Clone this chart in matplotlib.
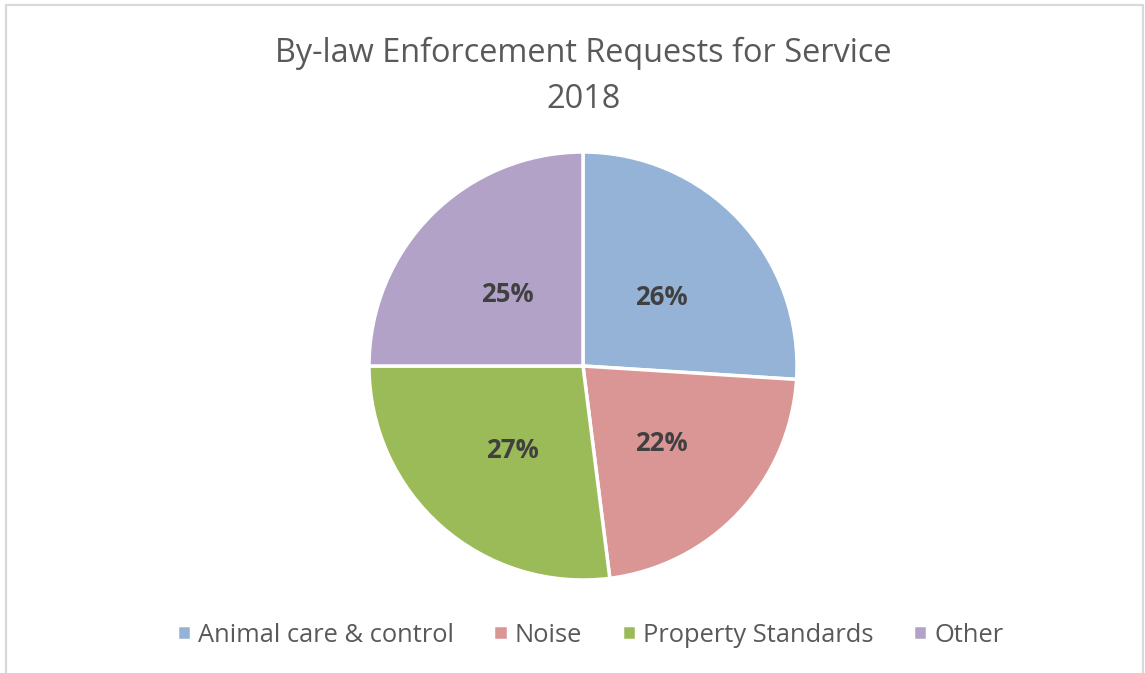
import matplotlib

matplotlib.use('agg')

import matplotlib.pyplot as plt
from matplotlib.patches import Rectangle

categories = ['Animal care & control', 'Noise', 'Property Standards', 'Other']
shares = [26, 22, 27, 25]
colors = ['#95B3D7', '#D99694', '#9BBB59', '#B3A2C7']

plt.rcParams['font.family'] = ['Open Sans', 'DejaVu Sans']

W, H = 1145, 673
fig = plt.figure(figsize=(W / 100, H / 100), dpi=100)

# light grey chart frame
fig.patches.append(Rectangle((6 / W, -0.02), (1143 - 6) / W, 1 - 5 / H + 0.02,
                             transform=fig.transFigure, fill=False,
                             edgecolor='#d9d9d9', linewidth=1.6))

cx, cy, r = 583, 366, 214
ax = fig.add_axes([(cx - r) / W, (H - cy - r) / H, 2 * r / W, 2 * r / H])
wedges, texts, autotexts = ax.pie(
    shares, colors=colors, startangle=90, counterclock=False,
    autopct='%d%%', pctdistance=0.5,
    wedgeprops=dict(edgecolor='white', linewidth=2.5),
    textprops=dict(color='#404040', fontsize=18.5, fontweight='bold'))
for t in autotexts:
    x, y = t.get_position()
    t.set_position((x, y - 0.02))
ax.set_xlim(-1, 1)
ax.set_ylim(-1, 1)
ax.set_aspect('equal')

fig.text(583 / W, 1 - 53 / H, 'By-law Enforcement Requests for Service',
         ha='center', va='center', fontsize=23.4, color='#595959')
fig.text(583 / W, 1 - 99 / H, '2018',
         ha='center', va='center', fontsize=23.4, color='#595959')

fig.legend(wedges, categories, loc='center', ncol=4,
           bbox_to_anchor=(590 / W, 1 - 635 / H), frameon=False,
           fontsize=18.4, labelcolor='#595959', handlelength=0.55,
           handleheight=0.55, handletextpad=0.28, columnspacing=1.55)

plt.savefig('out.png', dpi=100)
